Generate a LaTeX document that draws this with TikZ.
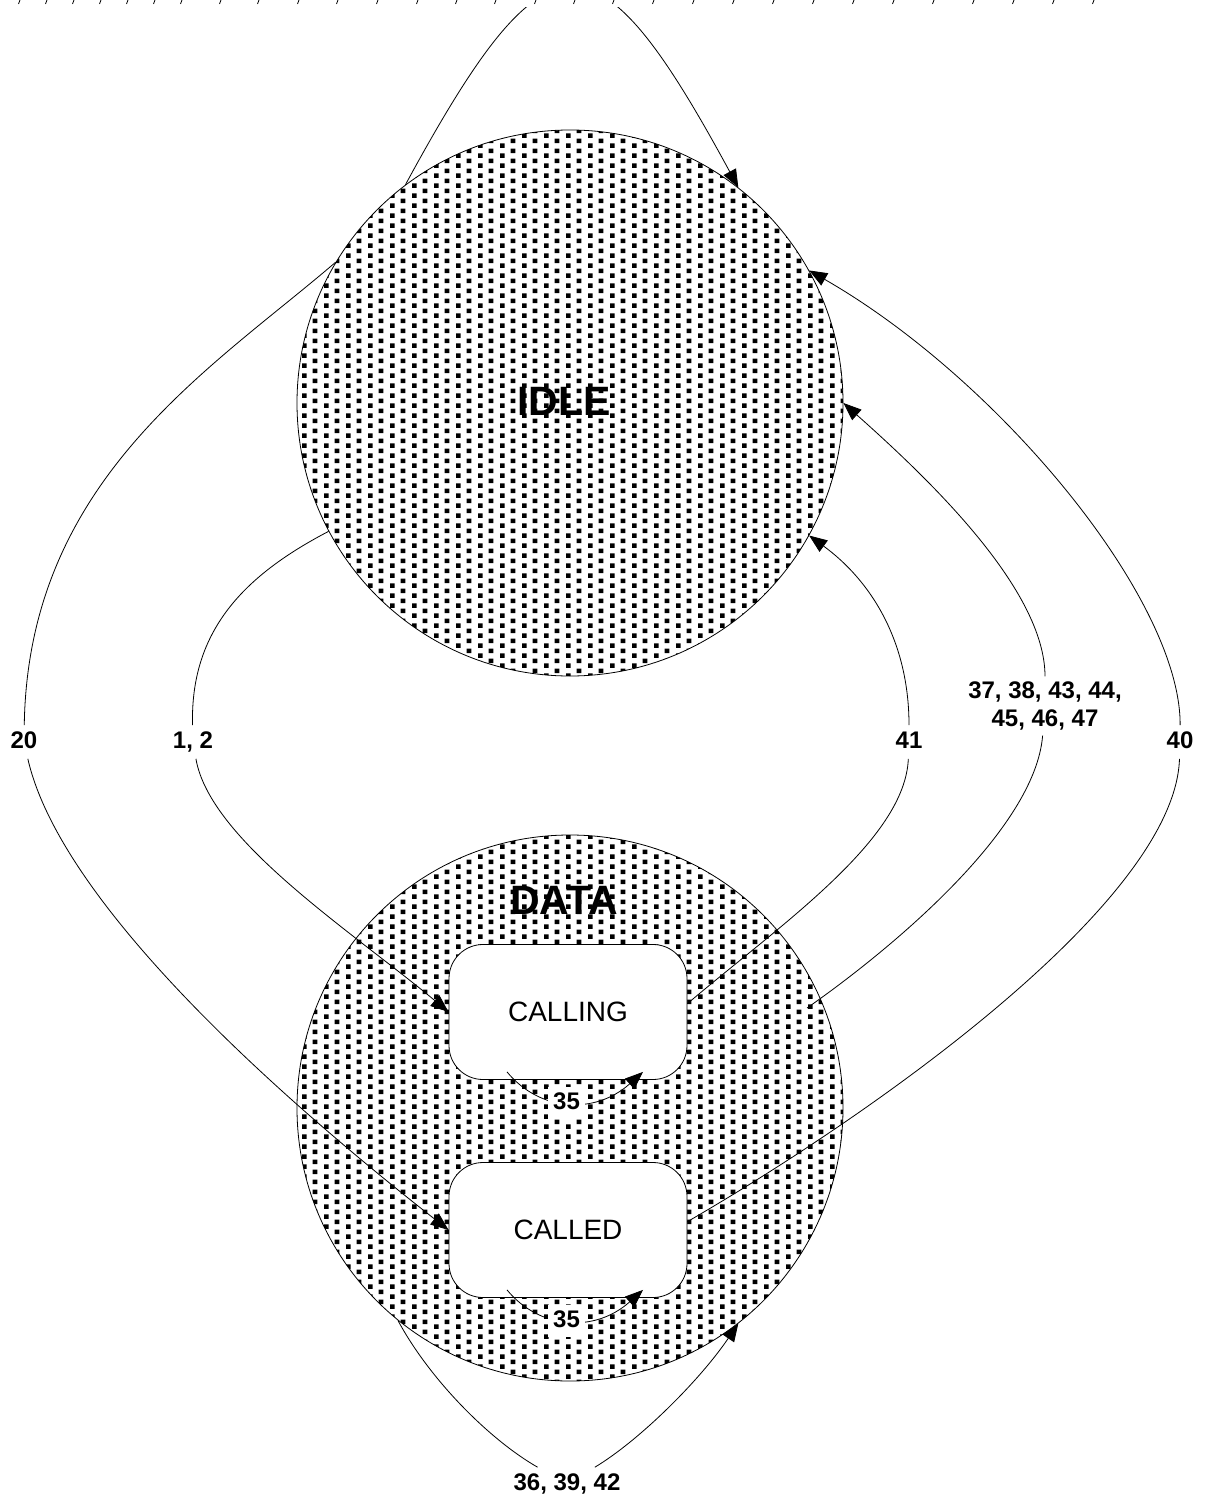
\documentclass[tikz,border=0pt]{standalone}
\usepackage{fontspec}
\setmainfont{Liberation Sans}
\usetikzlibrary{arrows.meta,patterns,calc}

% dotted fill of the two super states
\pgfdeclarepatternformonly{stipple}{\pgfpointorigin}{\pgfqpoint{10.8pt}{5.15pt}}{\pgfqpoint{10.8pt}{5.15pt}}{
  \pgfpathrectangle{\pgfqpoint{0pt}{0pt}}{\pgfqpoint{2.4pt}{2.4pt}}
  \pgfpathrectangle{\pgfqpoint{5.4pt}{2.575pt}}{\pgfqpoint{2.4pt}{2.4pt}}
  \pgfusepath{fill}
}

\tikzset{
  state/.style={circle, draw, pattern=stipple, minimum size=273pt, inner sep=0pt},
  statename/.style={font=\bfseries\fontsize{20.5}{24}\selectfont, inner sep=1pt},
  substate/.style={draw, fill=white, rounded corners=17pt, minimum width=119pt,
    minimum height=67.5pt, font=\fontsize{14}{16}\selectfont},
  lab/.style={font=\bfseries\fontsize{12}{14}\selectfont, inner sep=2.5pt, align=center},
  trlab/.style={lab, text height=8.8pt, text depth=2.6pt},
  arr/.style={-{Triangle[length=9pt,width=7pt]}},
}

\begin{document}
\begin{tikzpicture}[x=0.5pt,y=0.5pt,yscale=-1]
\useasboundingbox (0,0) rectangle (1204,1502);

% cut-off marks along the top edge
\foreach \tx in {19,46,73,100,127,154,181,220,258,298,337,377,417,456,495,535,574,613,653,693,733,773,813,853,893,933,973,1013,1053,1093}
  \draw (\tx+1,0) -- (\tx-0.5,4);

% super states
\node[state] (idle) at (570,403) {};
\node[statename] (idlelbl) at (564,401) {IDLE};
\node[state] (data) at (570,1108) {};
\node[statename] (datalbl) at (564,900) {DATA};

% sub states of DATA
\node[substate] (calling) at (568,1012) {CALLING};
\node[substate] (called) at (568,1230) {CALLED};

% transition labels
\node[trlab] (l20) at (24,742) {20};
\node[trlab] (l12) at (193,742) {1, 2};
\node[trlab] (l41) at (909,742) {41};
\node[lab] (l37) at (1045,706) {37, 38, 43, 44,\\45, 46, 47};
\node[trlab] (l40) at (1180,742) {40};
\node[trlab] (l36) at (567,1484) {36, 39, 42};
\coordinate (d37) at ($(data.center)+(237,-100)$);

% IDLE -> IDLE (runs off the top)
\begin{scope}
\clip (0,8) rectangle (1204,1502);
\draw[arr] (idle.127) .. controls (548,-78) and (596,-75) .. (idle.52);
\end{scope}

% IDLE -> DATA
\draw[arr] (idle.149) .. controls (210,370) and (28,480) .. (l20) .. controls (60,900) and (270,1090) .. (called.west);
\draw[arr] (idle.208) .. controls (245,575) and (190,630) .. (l12) .. controls (210,840) and (350,930) .. (calling.west);

% DATA -> IDLE
\draw[arr] (calling.4) .. controls (780,925) and (905,840) .. (l41) .. controls (909,640) and (870,580) .. (idle.-29);
\draw[arr] (d37) .. controls (890,950) and (1035,830) .. (l37) .. controls (1045,590) and (930,480) .. (idle.0);
\draw[arr] (called.4) .. controls (880,1110) and (1175,900) .. (l40) .. controls (1181,600) and (1000,380) .. (idle.29);

% DATA -> DATA
\draw[arr] (data.231) .. controls (430,1380) and (490,1440) .. (l36) .. controls (640,1440) and (700,1380) .. (data.-52);

% self loops on the sub states
\foreach \s in {calling,called}
  \draw[arr] ($(\s.south)+(-61,-8)$) .. controls ($(\s.south)+(-28,32)$) and ($(\s.south)+(27,35)$) .. ($(\s.south)+(75,-8)$)
    node[trlab, fill=white, pos=0.48] (\s35) {35};

\end{tikzpicture}
\end{document}
